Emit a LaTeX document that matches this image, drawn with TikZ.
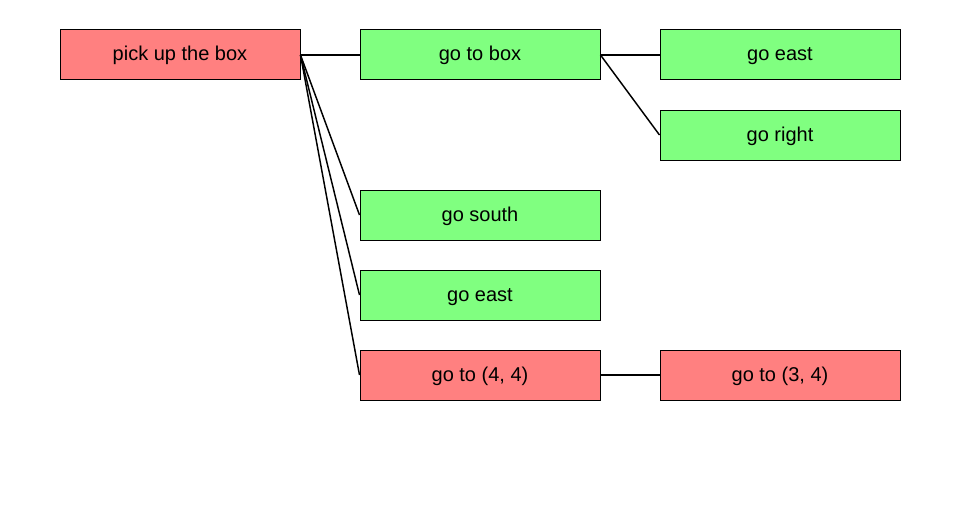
\documentclass[tikz,border=0pt]{standalone}
\usepackage{fontspec}
\setmainfont{Liberation Sans}
\usepackage{tikz}
\definecolor{TaskFail}{RGB}{255, 128, 128}
\definecolor{TaskDone}{RGB}{128, 255, 128}

\tikzset{
  task/.style={draw=black, line width=0.75pt, minimum width=180pt, minimum height=37.5pt,
    inner sep=0pt, text height=11pt, text depth=2pt, font=\fontsize{15pt}{18pt}\selectfont},
  link/.style={line width=1.1pt}
}

\begin{document}
\begin{tikzpicture}[x=0.75pt, y=-0.75pt]
    % Frame
    \useasboundingbox (0,0) rectangle (960,510);

    % Tasks
    \node[task, fill=TaskFail] (pickup) at (180,55) {pick up the box};
    \node[task, fill=TaskDone] (gotobox) at (480,55) {go to box};
    \node[task, fill=TaskDone] (goeast) at (780,55) {go east};
    \node[task, fill=TaskDone] (goright) at (780,135) {go right};
    \node[task, fill=TaskDone] (gosouth) at (480,215) {go south};
    \node[task, fill=TaskDone] (goeasttwo) at (480,295) {go east};
    \node[task, fill=TaskFail] (gotofour) at (480,375) {go to (4, 4)};
    \node[task, fill=TaskFail] (gotothree) at (780,375) {go to (3, 4)};

    % Links
    \draw[link] (pickup.east) -- (gotobox.west);
    \draw[link] (pickup.east) -- (gosouth.west);
    \draw[link] (pickup.east) -- (goeasttwo.west);
    \draw[link] (pickup.east) -- (gotofour.west);
    \draw[link] (gotobox.east) -- (goeast.west);
    \draw[link] (gotobox.east) -- (goright.west);
    \draw[link] (gotofour.east) -- (gotothree.west);
\end{tikzpicture}
\end{document}
